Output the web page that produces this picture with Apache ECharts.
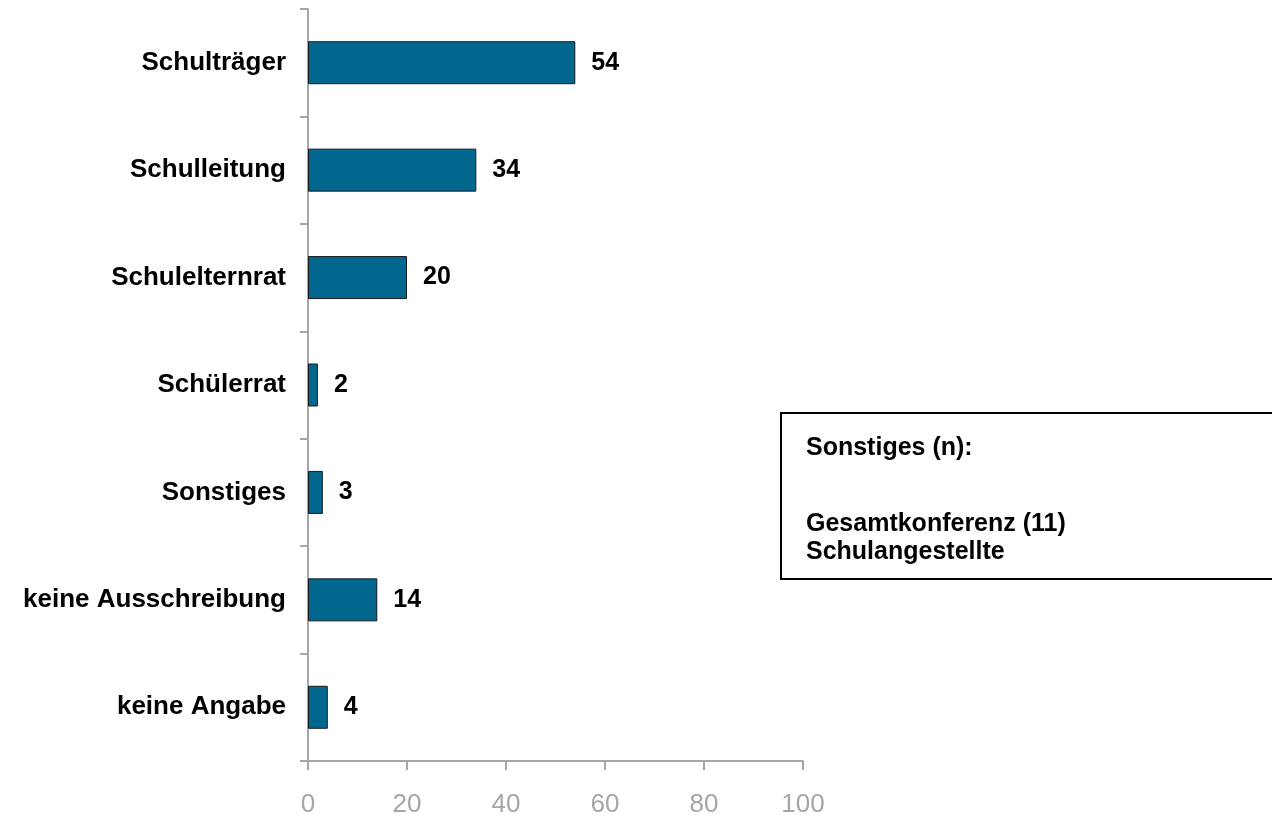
<!DOCTYPE html>
<html>
<head>
<meta charset="utf-8">
<script src="https://cdn.jsdelivr.net/npm/echarts@6/dist/echarts.min.js"></script>
<style>
  html, body { margin: 0; padding: 0; background: #fff; }
  #chart { width: 1272px; height: 818px; }
</style>
</head>
<body>
<div id="chart"></div>
<script>
// Kategorien von oben nach unten
const categories = ['Schulträger', 'Schulleitung', 'Schulelternrat', 'Schülerrat', 'Sonstiges', 'keine Ausschreibung', 'keine Angabe']
const values = [54, 34, 20, 2, 3, 14, 4]
const xTicks = [0, 20, 40, 60, 80, 100]
const noteTitle = 'Sonstiges (n):'
const noteItems = ['Gesamtkonferenz (11)', 'Schulangestellte']

const chart = echarts.init(document.getElementById('chart'))

const option = {
  animation: false,
  grid: {
    left: 308,
    right: 469,
    top: 9,
    bottom: 57,
    containLabel: false
  },
  xAxis: {
    type: 'value',
    min: xTicks[0],
    max: xTicks[xTicks.length - 1],
    interval: 20,
    axisLine: { show: true, lineStyle: { color: '#a6a6a6', width: 2 } },
    axisTick: { show: true, length: 9, lineStyle: { color: '#a6a6a6', width: 2 } },
    splitLine: { show: false },
    axisLabel: {
      color: '#a6a6a6',
      fontFamily: 'Liberation Sans, Arial, sans-serif',
      fontSize: 26,
      margin: 31
    }
  },
  yAxis: {
    type: 'category',
    inverse: true,
    data: categories,
    axisLine: { show: true, lineStyle: { color: '#a6a6a6', width: 2 } },
    axisTick: { show: true, length: 8, lineStyle: { color: '#a6a6a6', width: 2 } },
    axisLabel: {
      color: '#000',
      fontFamily: 'Liberation Sans, Arial, sans-serif',
      fontWeight: 'bold',
      fontSize: 26,
      margin: 22
    }
  },
  series: [{
    type: 'bar',
    data: values,
    barWidth: 43,
    itemStyle: {
      color: '#02678f',
      borderColor: '#1a1a1a',
      borderWidth: 1
    },
    label: {
      show: true,
      position: 'right',
      distance: 16,
      color: '#000',
      fontFamily: 'Liberation Sans, Arial, sans-serif',
      fontWeight: 'bold',
      fontSize: 25
    }
  }],
  graphic: [{
    type: 'group',
    left: 780,
    top: 412,
    children: [{
      type: 'rect',
      shape: { x: 0, y: 0, width: 520, height: 166 },
      style: { fill: '#fff', stroke: '#000', lineWidth: 2 }
    }, {
      type: 'text',
      x: 25,
      y: 23,
      style: {
        text: noteTitle,
        fill: '#000',
        font: 'bold 25px "Liberation Sans", Arial, sans-serif'
      }
    }, {
      type: 'text',
      x: 25,
      y: 97,
      style: {
        text: noteItems.join('\n'),
        fill: '#000',
        font: 'bold 25px "Liberation Sans", Arial, sans-serif',
        lineHeight: 28
      }
    }]
  }]
}

chart.setOption(option)
</script>
</body>
</html>
